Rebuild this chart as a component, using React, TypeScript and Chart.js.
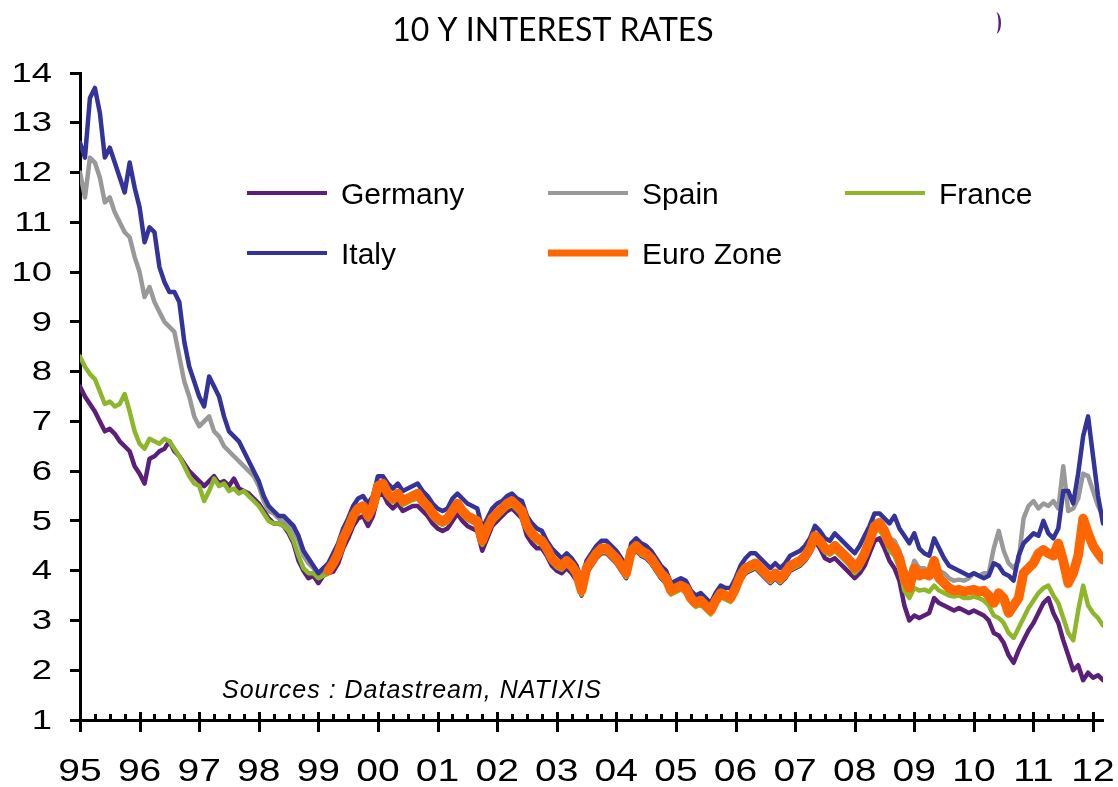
import { useEffect, useRef } from "react";
import { Chart, registerables } from "chart.js";

Chart.register(...registerables);

const TITLE = "10 Y INTEREST RATES";
const SOURCE = "Sources : Datastream, NATIXIS";
const YEAR_LABELS = ["95", "96", "97", "98", "99", "00", "01", "02", "03", "04", "05", "06", "07", "08", "09", "10", "11", "12"];
const Y_MIN = 1;
const Y_MAX = 14;
const LAST_MONTH = 206; // months since Jan 1995
const EURO_START_MONTH = 50;

// monthly values, Jan 1995 .. Mar 2012
const germany = [
  7.7, 7.5, 7.35, 7.2, 7.0, 6.8, 6.85, 6.75, 6.6, 6.5, 6.4, 6.1,
  5.95, 5.75, 6.25, 6.3, 6.4, 6.45, 6.6, 6.4, 6.3, 6.15, 6.0, 5.9,
  5.8, 5.7, 5.8, 5.9, 5.75, 5.8, 5.7, 5.85, 5.65, 5.6, 5.55, 5.45,
  5.35, 5.2, 5.05, 4.95, 4.95, 4.9, 4.75, 4.55, 4.2, 4.0, 3.85, 3.9,
  3.75, 3.9, 3.95, 3.98, 4.15, 4.45, 4.65, 4.9, 5.05, 5.1, 4.9, 5.1,
  5.5, 5.55, 5.35, 5.25, 5.35, 5.2, 5.25, 5.3, 5.3, 5.2, 5.1, 4.95,
  4.85, 4.8, 4.85, 5.0, 5.15, 5.0, 4.9, 4.85, 4.8, 4.4, 4.65, 4.9,
  5.0, 5.1, 5.2, 5.25, 5.15, 5.05, 4.7, 4.55, 4.45, 4.45, 4.3, 4.1,
  4.0, 3.95, 4.05, 3.95, 3.8, 3.5, 3.95, 4.1, 4.25, 4.35, 4.35, 4.25,
  4.15, 4.0, 3.85, 4.3, 4.4, 4.3, 4.25, 4.15, 4.0, 3.85, 3.75, 3.55,
  3.6, 3.65, 3.55, 3.4, 3.3, 3.35, 3.25, 3.15, 3.35, 3.5, 3.45, 3.4,
  3.55, 3.8, 3.95, 4.0, 4.05, 3.95, 3.85, 3.75, 3.85, 3.75, 3.85, 4.0,
  4.05, 4.1, 4.2, 4.35, 4.6, 4.45, 4.25, 4.2, 4.25, 4.15, 4.05, 3.95,
  3.85, 3.95, 4.1, 4.35, 4.6, 4.65, 4.45, 4.2, 4.05, 3.8, 3.3, 3.0,
  3.1, 3.05, 3.1, 3.15, 3.45, 3.35, 3.3, 3.25, 3.2, 3.25, 3.2, 3.15,
  3.2, 3.15, 3.1, 3.0, 2.75, 2.7, 2.55, 2.3, 2.15, 2.4, 2.6, 2.8,
  2.95, 3.15, 3.35, 3.45, 3.15, 2.95, 2.6, 2.3, 2.0, 2.1, 1.8, 1.95,
  1.85, 1.9, 1.8,
];

const spain = [
  12.0, 11.5, 12.3, 12.2, 11.9, 11.4, 11.5, 11.2, 11.0, 10.8, 10.7, 10.3,
  10.0, 9.5, 9.7, 9.4, 9.2, 9.0, 8.9, 8.8, 8.3, 7.8, 7.5, 7.1,
  6.9, 7.0, 7.1, 6.8, 6.7, 6.5, 6.4, 6.3, 6.2, 6.1, 6.0, 5.9,
  5.7, 5.4, 5.2, 5.15, 5.05, 5.0, 4.9, 4.8, 4.6, 4.3, 4.15, 4.05,
  3.9, 3.95, 4.05, 4.15, 4.35, 4.65, 4.85, 5.12, 5.27, 5.32, 5.12, 5.32,
  5.72, 5.77, 5.57, 5.47, 5.57, 5.42, 5.47, 5.52, 5.57, 5.42, 5.32, 5.17,
  5.07, 5.02, 5.07, 5.22, 5.37, 5.22, 5.12, 5.07, 5.02, 4.62, 4.87, 5.07,
  5.17, 5.27, 5.37, 5.42, 5.32, 5.22, 4.92, 4.77, 4.67, 4.62, 4.45, 4.25,
  4.15, 4.1, 4.2, 4.1, 3.95, 3.55, 4.05, 4.2, 4.35, 4.45, 4.45, 4.35,
  4.25, 4.1, 3.95, 4.4, 4.5, 4.4, 4.35, 4.25, 4.1, 3.95, 3.85, 3.6,
  3.65, 3.7, 3.65, 3.45, 3.35, 3.4, 3.3, 3.2, 3.4, 3.55, 3.5, 3.45,
  3.65, 3.9, 4.05, 4.1, 4.15, 4.05, 3.95, 3.85, 3.95, 3.85, 3.95, 4.1,
  4.15, 4.2, 4.3, 4.45, 4.7, 4.6, 4.45, 4.42, 4.55, 4.45, 4.37, 4.28,
  4.15, 4.25, 4.45, 4.7, 4.98, 5.02, 4.9, 4.65, 4.6, 4.4, 4.05, 3.85,
  4.2, 4.05, 4.05, 3.95, 4.25, 4.0, 3.95, 3.85, 3.8, 3.82, 3.8, 3.85,
  3.95, 3.9, 3.95, 3.95, 4.45, 4.8, 4.4, 4.15, 4.05, 4.2, 5.05, 5.3,
  5.4, 5.25, 5.35, 5.3, 5.4, 5.25, 6.1, 5.2, 5.25, 5.45, 5.95, 5.9,
  5.6, 5.3, 5.1,
];

const france = [
  8.3, 8.1, 7.95, 7.85, 7.6, 7.35, 7.4, 7.3, 7.35, 7.55, 7.2, 6.8,
  6.55, 6.45, 6.65, 6.6, 6.55, 6.65, 6.6, 6.45, 6.3, 6.1, 5.9, 5.75,
  5.7, 5.4, 5.6, 5.85, 5.7, 5.75, 5.6, 5.65, 5.55, 5.6, 5.5, 5.4,
  5.3, 5.15, 5.0, 4.95, 4.95, 4.9, 4.8, 4.6, 4.3, 4.05, 3.95, 3.95,
  3.85, 3.9, 3.95, 4.08, 4.28, 4.58, 4.78, 5.03, 5.18, 5.23, 5.03, 5.23,
  5.62, 5.67, 5.47, 5.37, 5.47, 5.32, 5.37, 5.42, 5.45, 5.32, 5.22, 5.07,
  4.97, 4.92, 4.97, 5.12, 5.27, 5.12, 5.02, 4.97, 4.92, 4.52, 4.77, 4.97,
  5.07, 5.17, 5.27, 5.32, 5.22, 5.12, 4.82, 4.67, 4.57, 4.52, 4.37, 4.17,
  4.07, 4.02, 4.12, 4.02, 3.87, 3.52, 3.97, 4.12, 4.27, 4.37, 4.37, 4.27,
  4.17, 4.02, 3.87, 4.32, 4.42, 4.32, 4.27, 4.17, 4.02, 3.87, 3.77, 3.52,
  3.57, 3.62, 3.57, 3.37, 3.27, 3.32, 3.22, 3.12, 3.32, 3.47, 3.42, 3.37,
  3.57, 3.82, 3.97, 4.02, 4.07, 3.97, 3.87, 3.77, 3.87, 3.77, 3.87, 4.02,
  4.07, 4.12, 4.22, 4.37, 4.62, 4.52, 4.37, 4.32, 4.4, 4.3, 4.2, 4.1,
  3.95, 4.05, 4.25, 4.5, 4.78, 4.82, 4.65, 4.4, 4.3, 4.05, 3.6, 3.45,
  3.65, 3.6, 3.62, 3.58, 3.7, 3.6, 3.55, 3.5, 3.48, 3.5, 3.45, 3.45,
  3.48, 3.45, 3.4, 3.3, 3.1, 3.05, 2.95, 2.75, 2.65, 2.85, 3.05, 3.25,
  3.4, 3.55, 3.65, 3.7, 3.5, 3.35, 3.05, 2.75, 2.6, 3.2, 3.7, 3.3,
  3.15, 3.05, 2.9,
];

const italy = [
  12.6, 12.3, 13.5, 13.7, 13.2, 12.3, 12.5, 12.2, 11.9, 11.6, 12.2, 11.7,
  11.3, 10.6, 10.9, 10.8, 10.1, 9.8, 9.6, 9.6, 9.4, 8.6, 8.1, 7.8,
  7.5, 7.3, 7.9, 7.7, 7.5, 7.1, 6.8, 6.7, 6.6, 6.4, 6.2, 6.0,
  5.8, 5.5, 5.3, 5.2, 5.1, 5.1, 5.0, 4.9, 4.7, 4.4, 4.25, 4.1,
  3.95, 4.05, 4.15, 4.35, 4.55, 4.85, 5.05, 5.3, 5.45, 5.5, 5.35, 5.5,
  5.9, 5.9, 5.75, 5.65, 5.75, 5.6, 5.65, 5.7, 5.75, 5.6, 5.5, 5.35,
  5.25, 5.2, 5.25, 5.45, 5.55, 5.45, 5.35, 5.3, 5.25, 4.85, 5.05, 5.25,
  5.35, 5.4, 5.5, 5.55, 5.45, 5.4, 5.1, 4.95, 4.85, 4.8, 4.6, 4.45,
  4.35, 4.25, 4.35, 4.25, 4.1, 3.8, 4.2, 4.35, 4.5, 4.6, 4.6, 4.5,
  4.4, 4.25, 4.1, 4.55, 4.65, 4.55, 4.5, 4.4, 4.25, 4.1, 4.0, 3.75,
  3.8, 3.85, 3.8, 3.6, 3.5, 3.55, 3.45, 3.35, 3.55, 3.7, 3.65, 3.65,
  3.85, 4.1, 4.25, 4.35, 4.35, 4.25, 4.15, 4.05, 4.15, 4.05, 4.15, 4.3,
  4.35, 4.4, 4.5, 4.65, 4.9, 4.8, 4.65, 4.6, 4.75, 4.65, 4.55, 4.45,
  4.35, 4.5, 4.7, 4.9, 5.15, 5.15, 5.05, 4.95, 5.1, 4.85, 4.7, 4.55,
  4.75, 4.45, 4.35, 4.3, 4.65, 4.45, 4.25, 4.1, 4.05, 4.0, 3.95, 3.9,
  3.95, 3.9, 3.85, 3.9, 4.15, 4.1, 3.95, 3.9, 3.8, 4.3, 4.55, 4.65,
  4.75, 4.7, 5.0, 4.75, 4.65, 4.85, 5.6, 5.6, 5.35, 5.95, 6.7, 7.1,
  6.3, 5.5, 4.95,
];

// monthly values, Mar 1999 .. Mar 2012
const euroZone = [
  4.0, 4.15, 4.35, 4.65, 4.85, 5.1, 5.25, 5.3, 5.1, 5.3,
  5.7, 5.75, 5.55, 5.45, 5.55, 5.4, 5.45, 5.5, 5.55, 5.4, 5.3, 5.15,
  5.05, 5.0, 5.05, 5.2, 5.35, 5.2, 5.1, 5.05, 5.0, 4.6, 4.85, 5.05,
  5.15, 5.25, 5.35, 5.4, 5.3, 5.2, 4.9, 4.75, 4.65, 4.6, 4.45, 4.25,
  4.15, 4.1, 4.2, 4.1, 3.95, 3.6, 4.05, 4.2, 4.35, 4.45, 4.45, 4.35,
  4.25, 4.1, 3.95, 4.4, 4.5, 4.4, 4.35, 4.25, 4.1, 3.95, 3.85, 3.6,
  3.65, 3.7, 3.65, 3.45, 3.35, 3.4, 3.3, 3.2, 3.4, 3.55, 3.5, 3.45,
  3.65, 3.9, 4.05, 4.1, 4.15, 4.05, 3.95, 3.85, 3.95, 3.85, 3.95, 4.1,
  4.15, 4.2, 4.3, 4.45, 4.7, 4.6, 4.45, 4.4, 4.5, 4.4, 4.3, 4.2,
  4.05, 4.15, 4.35, 4.6, 4.9, 4.95, 4.8, 4.55, 4.45, 4.25, 3.85, 3.65,
  4.05, 3.9, 3.95, 3.9, 4.2, 3.85, 3.75, 3.65, 3.6, 3.62, 3.58, 3.6,
  3.62, 3.58, 3.6, 3.5, 3.35, 3.55, 3.45, 3.15, 3.3, 3.45, 3.95, 4.05,
  4.15, 4.35, 4.42, 4.35, 4.3, 4.55, 4.2, 3.75, 3.95, 4.3, 5.05, 4.75,
  4.5, 4.35, 4.22,
];

const SERIES = [
  { label: "Euro Zone", values: euroZone, start: EURO_START_MONTH, color: "#FF6600", width: 9.5, legendWidth: 7, order: 0 },
  { label: "Italy", values: italy, start: 0, color: "#333399", width: 4.5, legendWidth: 4, order: 1 },
  { label: "France", values: france, start: 0, color: "#8DB62A", width: 4.5, legendWidth: 4, order: 2 },
  { label: "Germany", values: germany, start: 0, color: "#5B1F79", width: 4.5, legendWidth: 4, order: 3 },
  { label: "Spain", values: spain, start: 0, color: "#999999", width: 4.5, legendWidth: 4, order: 4 },
];

const LEGEND_LAYOUT = [
  { label: "Germany", x: 247, y: 193 },
  { label: "Spain", x: 548, y: 193 },
  { label: "France", x: 845, y: 193 },
  { label: "Italy", x: 247, y: 253 },
  { label: "Euro Zone", x: 548, y: 253 },
];

const FONT = "'Liberation Sans', Arial, sans-serif";

function stretchedText(ctx: CanvasRenderingContext2D, text: string, x: number, y: number, sx: number, align: "left" | "right" | "center") {
  const w = ctx.measureText(text).width * sx;
  let left = x;
  if (align === "right") left = x - w;
  else if (align === "center") left = x - w / 2;
  ctx.save();
  ctx.textAlign = "left";
  ctx.translate(left, y);
  ctx.scale(sx, 1);
  ctx.fillText(text, 0, 0);
  ctx.restore();
}

const decorPlugin = {
  id: "decor",
  afterDraw(chart: any) {
    const ctx = chart.ctx as CanvasRenderingContext2D;
    const xs = chart.scales.x;
    const ys = chart.scales.y;
    const y0 = ys.getPixelForValue(Y_MIN);
    ctx.save();
    ctx.strokeStyle = "#000";
    ctx.lineWidth = 3;
    ctx.lineCap = "butt";
    // x ticks: yearly major, quarterly minor
    for (let m = 0; m <= LAST_MONTH; m += 3) {
      const px = Math.round(xs.getPixelForValue(m)) + 0.5;
      ctx.beginPath();
      if (m % 12 === 0) {
        ctx.moveTo(px, y0 - 8);
        ctx.lineTo(px, y0 + 12);
      } else {
        ctx.moveTo(px, y0 - 6);
        ctx.lineTo(px, y0);
      }
      ctx.stroke();
    }
    ctx.fillStyle = "#000";
    ctx.textBaseline = "middle";
    // x labels
    ctx.font = `32px ${FONT}`;
    YEAR_LABELS.forEach((lab, i) => {
      const px = xs.getPixelForValue(i * 12);
      stretchedText(ctx, lab, px, 772, 1.22, "center");
    });
    // y labels
    ctx.font = `28px ${FONT}`;
    ys.ticks.forEach((t: any) => {
      const py = ys.getPixelForValue(t.value);
      stretchedText(ctx, String(t.value), 52, py + 1, 1.3, "right");
    });
    // title
    ctx.font = `32px Lato, ${FONT}`;
    ctx.textAlign = "center";
    ctx.textBaseline = "alphabetic";
    ctx.fillText(TITLE, 553, 41);
    // legend
    ctx.font = `30px ${FONT}`;
    ctx.textAlign = "left";
    LEGEND_LAYOUT.forEach((item) => {
      const ds = chart.data.datasets.find((d: any) => d.label === item.label);
      if (!ds) return;
      ctx.strokeStyle = ds.borderColor;
      ctx.lineWidth = ds.legendWidth;
      ctx.beginPath();
      ctx.moveTo(item.x, item.y);
      ctx.lineTo(item.x + 80, item.y);
      ctx.stroke();
      ctx.fillStyle = "#000";
      ctx.fillText(item.label, item.x + 94, item.y + 11);
    });
    // source
    ctx.font = `italic 25px ${FONT}`;
    (ctx as any).letterSpacing = "1px";
    ctx.fillText(SOURCE, 222, 698);
    (ctx as any).letterSpacing = "0px";
    // small mark top right
    ctx.fillStyle = "#5B1F79";
    ctx.beginPath();
    ctx.ellipse(996, 23, 5, 11, 0, -Math.PI / 2, Math.PI / 2);
    ctx.ellipse(996, 23, 2.5, 11, 0, Math.PI / 2, -Math.PI / 2, true);
    ctx.fill();
    ctx.restore();
  },
};

export default function App() {
  const canvasRef = useRef<HTMLCanvasElement | null>(null);

  useEffect(() => {
    const canvas = canvasRef.current;
    if (!canvas) return;
    const datasets = SERIES.map((s) => ({
      label: s.label,
      data: s.values.map((v, i) => ({ x: s.start + i, y: v })),
      borderColor: s.color,
      backgroundColor: s.color,
      borderWidth: s.width,
      legendWidth: s.legendWidth,
      order: s.order,
      pointRadius: 0,
      tension: 0,
      fill: false,
    }));
    const chart = new Chart(canvas, {
      type: "line",
      data: { datasets: datasets as any },
      options: {
        animation: false,
        responsive: false,
        events: [],
        layout: { padding: { top: 73, right: 15, left: 0, bottom: 0 } },
        plugins: {
          legend: { display: false },
          title: { display: false },
          tooltip: { enabled: false },
        },
        elements: {
          point: { radius: 0 },
          line: { borderJoinStyle: "round", borderCapStyle: "round" },
        },
        scales: {
          x: {
            type: "linear",
            min: 0,
            max: LAST_MONTH,
            grid: { display: false, drawTicks: false },
            border: { display: true, color: "#000", width: 3 },
            ticks: { display: false },
            afterFit: (s: any) => {
              s.height = 67;
            },
          },
          y: {
            min: Y_MIN,
            max: Y_MAX,
            ticks: { stepSize: 1, display: false },
            grid: {
              display: true,
              drawOnChartArea: false,
              drawTicks: true,
              tickLength: 10,
              color: "#000",
              lineWidth: 3,
            },
            border: { display: true, color: "#000", width: 3 },
            afterFit: (s: any) => {
              s.width = 80;
            },
          },
        },
      } as any,
      plugins: [decorPlugin],
    });
    return () => chart.destroy();
  }, []);

  return (
    <div style={{ position: "absolute", left: 0, top: 0, width: 1118, height: 787, background: "#fff" }}>
      <canvas ref={canvasRef} width={1118} height={787} style={{ display: "block" }} />
    </div>
  );
}
